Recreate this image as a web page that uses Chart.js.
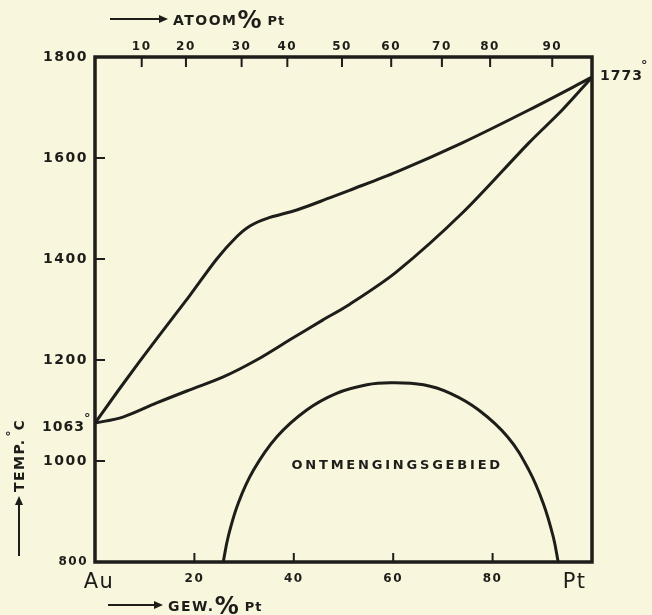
<!DOCTYPE html>
<html>
<head>
<meta charset="utf-8">
<script src="https://cdn.jsdelivr.net/npm/chart.js@4.4.1/dist/chart.umd.min.js"></script>
<style>
  html, body { margin: 0; padding: 0; background: #f8f6dd; }
  #wrap { width: 652px; height: 615px; }
</style>
</head>
<body>
<div id="wrap"><canvas id="chart" width="652" height="615"></canvas></div>
<script>
// Au-Pt diagram: gewichts% Pt tegen temperatuur (°C)
const liquidusWt = [0, 5.6, 12.4, 19.1, 24.5, 28.5, 31.1, 34.5, 40.6, 47.2, 51.2, 60.6, 73.9, 87.3, 100];
const liquidusT  = [1075, 1152, 1242, 1328, 1400, 1444, 1465, 1480, 1497, 1521, 1536, 1572, 1630, 1695, 1760];

const solidusWt = [0, 5.6, 12.4, 19.1, 25.7, 32.5, 39.2, 45.8, 51.2, 60.6, 73.9, 87.3, 94, 100];
const solidusT  = [1075, 1087, 1115, 1141, 1166, 1200, 1240, 1279, 1310, 1374, 1491, 1630, 1695, 1760];

// ontmengingsgebied
const solvusWt = [25.8, 26.8, 28.8, 31.9, 36.6, 42.6, 48.6, 54.7, 59.4, 66.1, 71.5, 77.2, 83.0, 87.3, 90.2, 92.2, 93.2];
const solvusT  = [800, 850, 916, 982, 1048, 1101, 1134, 1151, 1155, 1151, 1134, 1101, 1048, 982, 916, 850, 800];

// assen
const tempTicks = [800, 1000, 1200, 1400, 1600, 1800];
const tempTickMarks = [1000, 1200, 1400, 1600];
const gewTickPos = [0.8, 20, 40, 60, 80, 96.5];
const gewTickLabels = ['Au', '20', '40', '60', '80', 'Pt'];
const gewTickMarks = [20, 40, 60, 80];
const atoomTickPos = [9.4, 18.3, 29.5, 38.7, 49.7, 59.6, 69.8, 79.5, 92];
const atoomTickLabels = ['10', '20', '30', '40', '50', '60', '70', '80', '90'];

const ink = '#1d1d19';
const paper = '#f8f6dd';
const FONT = "'DejaVu Sans', sans-serif";

function toPoints(xs, ys) {
    return xs.map((x, i) => ({ x: x, y: ys[i] }));
}

function curve(xs, ys, tension) {
    return {
        data: toPoints(xs, ys),
        showLine: true,
        borderColor: ink,
        borderWidth: 3,
        pointRadius: 0,
        fill: false,
        tension: tension,
        clip: 4
    };
}

function arrow(ctx, x1, x2, y) {
    ctx.beginPath();
    ctx.moveTo(x1, y);
    ctx.lineTo(x2 - 6, y);
    ctx.stroke();
    ctx.beginPath();
    ctx.moveTo(x2, y);
    ctx.lineTo(x2 - 9, y - 4);
    ctx.lineTo(x2 - 9, y + 4);
    ctx.closePath();
    ctx.fill();
}

// titel met grote %
function percentTitle(ctx, x, y, word) {
    ctx.textAlign = 'left';
    ctx.textBaseline = 'alphabetic';
    ctx.font = 'bold 14px ' + FONT;
    ctx.letterSpacing = '1.5px';
    ctx.fillText(word, x, y);
    x += ctx.measureText(word).width;
    ctx.letterSpacing = '0px';
    ctx.font = 'bold 24px ' + FONT;
    ctx.fillText('%', x, y + 3);
    x += ctx.measureText('%').width + 6;
    ctx.font = 'bold 13px ' + FONT;
    ctx.letterSpacing = '1px';
    ctx.fillText('Pt', x, y);
    ctx.letterSpacing = '0px';
}

const paperPlugin = {
    id: 'paper',
    beforeDraw(chart) {
        const ctx = chart.ctx;
        ctx.save();
        ctx.fillStyle = paper;
        ctx.fillRect(0, 0, chart.width, chart.height);
        ctx.restore();
        // wijdere letters voor de asgetallen
        ctx.letterSpacing = '1.5px';
    }
};

const framePlugin = {
    id: 'frame',
    afterDraw(chart) {
        const ctx = chart.ctx;
        const a = chart.chartArea;
        const x = chart.scales.x, x2 = chart.scales.x2, y = chart.scales.y;
        ctx.save();
        ctx.strokeStyle = ink;
        ctx.fillStyle = ink;

        // kader
        ctx.lineWidth = 3.5;
        ctx.strokeRect(a.left, a.top, a.right - a.left, a.bottom - a.top);

        // streepjes naar binnen
        ctx.lineWidth = 2;
        ctx.beginPath();
        atoomTickPos.forEach(v => {
            const px = x2.getPixelForValue(v);
            ctx.moveTo(px, a.top);
            ctx.lineTo(px, a.top + 10);
        });
        gewTickMarks.forEach(v => {
            const px = x.getPixelForValue(v);
            ctx.moveTo(px, a.bottom);
            ctx.lineTo(px, a.bottom - 9);
        });
        tempTickMarks.forEach(v => {
            const py = y.getPixelForValue(v);
            ctx.moveTo(a.left, py);
            ctx.lineTo(a.left + 10, py);
        });
        ctx.stroke();

        // smeltpunten
        ctx.font = 'bold 14px ' + FONT;
        ctx.textBaseline = 'middle';
        ctx.letterSpacing = '1px';
        const yAu = y.getPixelForValue(1063);
        ctx.textAlign = 'right';
        ctx.fillText('1063', a.left - 10, yAu - 2);
        const yPt = y.getPixelForValue(1773);
        ctx.textAlign = 'left';
        ctx.fillText('1773', a.right + 8, yPt + 6);
        ctx.letterSpacing = '0px';
        ctx.font = 'bold 13px ' + FONT;
        ctx.textAlign = 'left';
        ctx.fillText('°', a.left - 11, yAu - 11);
        ctx.fillText('°', a.right + 49, yPt - 5);

        // gebied
        ctx.font = 'bold 13px ' + FONT;
        ctx.letterSpacing = '2.8px';
        ctx.textAlign = 'center';
        ctx.fillText('ONTMENGINGSGEBIED', x.getPixelForValue(60.8), y.getPixelForValue(990));
        ctx.letterSpacing = '0px';

        // astitels
        ctx.lineWidth = 2;
        arrow(ctx, 110, 168, 19);
        percentTitle(ctx, 173, 25, 'ATOOM');
        arrow(ctx, 108, 163, 605);
        percentTitle(ctx, 168, 611, 'GEW.');

        ctx.save();
        ctx.translate(19, 556);
        ctx.rotate(-Math.PI / 2);
        arrow(ctx, 0, 60, 0);
        ctx.font = 'bold 14px ' + FONT;
        ctx.letterSpacing = '1.5px';
        ctx.textAlign = 'left';
        ctx.textBaseline = 'middle';
        ctx.fillText('TEMP.', 64, 1);
        let tx = 64 + ctx.measureText('TEMP.').width + 2;
        ctx.letterSpacing = '0px';
        ctx.font = 'bold 12px ' + FONT;
        ctx.fillText('°', tx, -7);
        tx += ctx.measureText('°').width;
        ctx.font = 'bold 14px ' + FONT;
        ctx.fillText('C', tx, 1);
        ctx.restore();

        ctx.restore();
    }
};

new Chart(document.getElementById('chart').getContext('2d'), {
    type: 'scatter',
    data: {
        datasets: [
            curve(liquidusWt, liquidusT, 0.3),
            curve(solidusWt, solidusT, 0.3),
            curve(solvusWt, solvusT, 0.4)
        ]
    },
    options: {
        responsive: false,
        animation: false,
        layout: { padding: { left: 0, right: 60, top: 0, bottom: 0 } },
        plugins: {
            legend: { display: false },
            tooltip: { enabled: false }
        },
        scales: {
            x: {
                type: 'linear',
                position: 'bottom',
                min: 0,
                max: 100,
                grid: { display: false, drawTicks: false },
                border: { display: false },
                afterBuildTicks: s => { s.ticks = gewTickPos.map(v => ({ value: v })); },
                afterFit: s => { s.height = 53; },
                ticks: {
                    autoSkip: false,
                    maxRotation: 0,
                    padding: 10,
                    color: ink,
                    callback: (v, i) => gewTickLabels[i],
                    font: c => (c.index === 0 || c.index === gewTickLabels.length - 1)
                        ? { family: FONT, size: 21, lineHeight: 1 }
                        : { family: FONT, size: 12, weight: 'bold' }
                }
            },
            x2: {
                type: 'linear',
                position: 'top',
                min: 0,
                max: 100,
                grid: { display: false, drawTicks: false },
                border: { display: false },
                afterBuildTicks: s => { s.ticks = atoomTickPos.map(v => ({ value: v })); },
                afterFit: s => { s.height = 57; },
                ticks: {
                    autoSkip: false,
                    maxRotation: 0,
                    padding: 3,
                    color: ink,
                    callback: (v, i) => atoomTickLabels[i],
                    font: { family: FONT, size: 12, weight: 'bold' }
                }
            },
            y: {
                type: 'linear',
                position: 'left',
                min: 800,
                max: 1800,
                grid: { display: false, drawTicks: false },
                border: { display: false },
                afterBuildTicks: s => { s.ticks = tempTicks.map(v => ({ value: v })); },
                afterFit: s => { s.width = 95; },
                ticks: {
                    autoSkip: false,
                    padding: 7,
                    color: ink,
                    callback: v => String(v),
                    font: c => (c.tick && c.tick.value === 800)
                        ? { family: FONT, size: 12, weight: 'bold' }
                        : { family: FONT, size: 14, weight: 'bold' }
                }
            }
        }
    },
    plugins: [paperPlugin, framePlugin]
});
</script>
</body>
</html>
